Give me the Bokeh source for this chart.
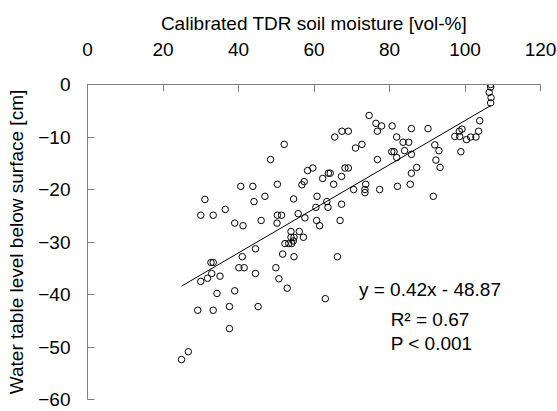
from bokeh.plotting import figure
from bokeh.models import Range1d, FixedTicker, Label
from bokeh.embed import file_html
from bokeh.resources import INLINE

# Calibrated TDR soil moisture [vol-%]
moisture = [31.1, 30.0, 33.3, 36.5, 39.0, 41.2, 40.6, 43.8, 50.3, 52.1,
            48.5, 44.1, 47.0, 54.6, 46.0, 50.3, 51.4, 50.2, 55.8, 57.6,
            53.9, 56.1, 57.2, 53.9, 54.7, 52.3, 53.3, 54.1, 54.5, 44.5,
            41.0, 51.7, 54.7, 66.2, 40.1, 41.5, 49.9, 44.5, 50.7, 52.9,
            63.0, 45.2, 32.7, 33.3, 32.9, 31.8, 30.0, 35.1, 34.3, 39.0,
            29.2, 33.3, 37.6, 37.6, 26.7, 24.9, 74.6, 76.4, 77.9, 76.8,
            80.7, 65.5, 67.4, 69.1, 71.0, 72.7, 76.8, 58.3, 59.7, 63.8,
            64.3, 68.2, 69.1, 62.3, 67.3, 57.4, 56.8, 65.2, 70.5, 73.7,
            73.5, 73.5, 77.4, 60.8, 63.4, 63.7, 60.5, 67.3, 60.7, 61.5,
            66.9, 81.9, 85.8, 90.2, 83.6, 85.1, 103.9, 99.2, 98.5, 97.3,
            98.6, 100.4, 101.5, 102.9, 103.6, 80.6, 81.2, 84.0, 81.9, 85.8,
            92.0, 93.1, 98.9, 92.3, 93.4, 87.2, 85.8, 82.1, 85.5, 91.6,
            106.8, 106.8, 106.4, 106.9, 106.8]

# Water table level below surface [cm]
water_table = [-21.9, -24.9, -24.9, -23.8, -26.4, -26.9, -19.4, -19.4, -19.0, -11.4,
               -14.3, -22.3, -21.3, -21.8, -25.9, -24.9, -24.9, -26.4, -24.6, -25.4,
               -28.0, -28.0, -29.1, -29.1, -29.1, -30.3, -30.3, -30.3, -29.8, -31.3,
               -32.8, -32.3, -32.8, -32.8, -34.9, -34.9, -34.9, -36.0, -37.0, -38.8,
               -40.8, -42.3, -33.9, -33.9, -36.0, -36.9, -37.5, -36.5, -39.8, -39.3,
               -43.0, -43.0, -42.3, -46.5, -50.9, -52.4, -5.9, -7.4, -7.9, -8.9,
               -7.9, -10.0, -8.9, -8.9, -12.1, -11.4, -14.3, -16.4, -15.9, -16.9,
               -16.9, -15.9, -15.9, -17.9, -17.5, -18.5, -19.1, -19.0, -20.0, -19.0,
               -20.0, -20.6, -20.0, -21.3, -22.3, -23.4, -23.4, -22.8, -25.9, -26.9,
               -25.9, -10.0, -8.4, -8.4, -11.0, -11.0, -6.9, -8.5, -8.9, -9.9,
               -9.9, -10.5, -10.0, -10.0, -8.9, -12.8, -12.8, -12.6, -13.9, -13.3,
               -11.5, -12.6, -12.8, -14.4, -15.8, -15.8, -16.9, -19.4, -19.0, -21.3,
               0.0, -0.5, -1.5, -2.5, -3.5]

x_ticks = [0, 20, 40, 60, 80, 100, 120]
y_ticks = [0, -10, -20, -30, -40, -50, -60]

slope = 0.42
intercept = -48.87
eq_text = "y = 0.42x - 48.87"
r2_text = "R\u00b2 = 0.67"
p_text = "P < 0.001"

x_title = "Calibrated TDR soil moisture [vol-%]"
y_title = "Water table level below surface [cm]"

FONT = "Liberation Sans"
FS = "19px"
AXIS_COLOR = "#808080"

p = figure(width=557, height=411, output_backend="svg", toolbar_location=None,
           x_range=Range1d(0, 120), y_range=Range1d(-60, 0),
           x_axis_location="above",
           min_border_left=87, min_border_right=17,
           min_border_top=84, min_border_bottom=12)
p.outline_line_color = None
p.grid.visible = False
p.background_fill_color = "white"
p.border_fill_color = "white"

xa = p.xaxis[0]
ya = p.yaxis[0]
xa.ticker = FixedTicker(ticks=x_ticks)
ya.ticker = FixedTicker(ticks=y_ticks)
xa.axis_label = x_title
ya.axis_label = y_title
for ax in (xa, ya):
    ax.axis_line_color = AXIS_COLOR
    ax.axis_line_width = 1
    ax.major_tick_line_color = AXIS_COLOR
    ax.major_tick_in = 7
    ax.major_tick_out = 0
    ax.minor_tick_line_color = None
    ax.major_label_text_font = FONT
    ax.major_label_text_font_size = FS
    ax.major_label_text_color = "black"
    ax.axis_label_text_font = FONT
    ax.axis_label_text_font_size = FS
    ax.axis_label_text_font_style = "normal"
    ax.axis_label_text_color = "black"
xa.major_label_standoff = 29
xa.axis_label_standoff = 6
ya.major_label_standoff = 17
ya.axis_label_standoff = 8

p.scatter(moisture, water_table, marker="circle", size=6.5,
          fill_color=None, line_color="black", line_width=1)

x0, x1 = min(moisture), max(moisture)
p.line([x0, x1], [slope * x0 + intercept, slope * x1 + intercept],
       line_color="black", line_width=1)

for txt, tx, ty in ((eq_text, 71.9, -39.1), (r2_text, 80.3, -44.8), (p_text, 80.3, -49.4)):
    p.add_layout(Label(x=tx, y=ty, text=txt, text_font=FONT, text_font_size=FS,
                       text_baseline="middle", text_align="left", text_color="black"))

open("out.html", "w").write(file_html(p, INLINE))
